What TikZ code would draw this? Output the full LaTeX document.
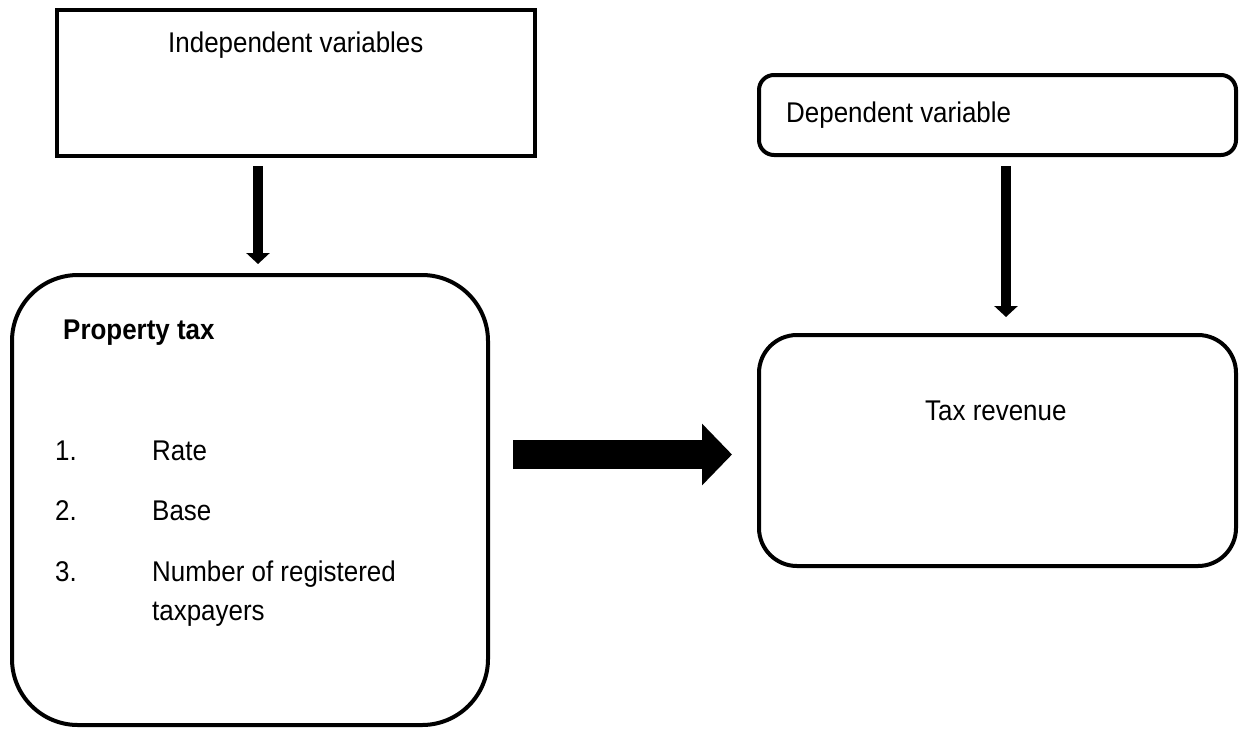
\documentclass[tikz,border=0pt]{standalone}
\usepackage{fontspec}
\setmainfont{Liberation Sans}[FakeStretch=0.91]
\usetikzlibrary{arrows.meta}
\begin{document}
\begin{tikzpicture}[x=1pt,y=-1pt,
  boxline/.style={draw=black,line width=4pt},
  lbl/.style={anchor=base west,inner sep=0pt,font=\fontsize{28.5}{34}\selectfont},
  thinarrow/.style={line width=10.5pt,-{Triangle[width=23pt,length=11pt]}},
  fatarrow/.style={line width=29pt,-{Triangle[width=60pt,length=30pt]}}]
\useasboundingbox (0,0) rectangle (1246,729);
% boxes
\draw[boxline] (57,10) rectangle (535,156);
\draw[boxline,rounded corners=66pt] (12,275) rectangle (488,725);
\draw[boxline,rounded corners=15pt] (759,75) rectangle (1236,155);
\draw[boxline,rounded corners=38pt] (759,335) rectangle (1236,566);
% texts
\node[lbl] (iv) at (168,52) {Independent variables};
\node[lbl] (dv) at (786,122) {Dependent variable};
\node[lbl] (tr) at (925,420) {Tax revenue};
\node[lbl,font=\fontsize{28.5}{34}\selectfont\bfseries] (pt) at (63,339) {Property tax};
\node[lbl] (n1) at (55,460) {1.};
\node[lbl] (t1) at (152,460) {Rate};
\node[lbl] (n2) at (55,520) {2.};
\node[lbl] (t2) at (152,520) {Base};
\node[lbl] (n3) at (55,581) {3.};
\node[lbl] (t3) at (152,581) {Number of registered};
\node[lbl] (t4) at (152,620) {taxpayers};
% arrows
\coordinate (a1s) at (258,166);
\coordinate (a1e) at (258,264);
\coordinate (a2s) at (1006,166);
\coordinate (a2e) at (1006,317);
\coordinate (a3s) at (513,454.5);
\coordinate (a3e) at (732,454.5);
\draw[thinarrow] (a1s) -- (a1e);
\draw[thinarrow] (a2s) -- (a2e);
\draw[fatarrow] (a3s) -- (a3e);
\end{tikzpicture}
\end{document}
